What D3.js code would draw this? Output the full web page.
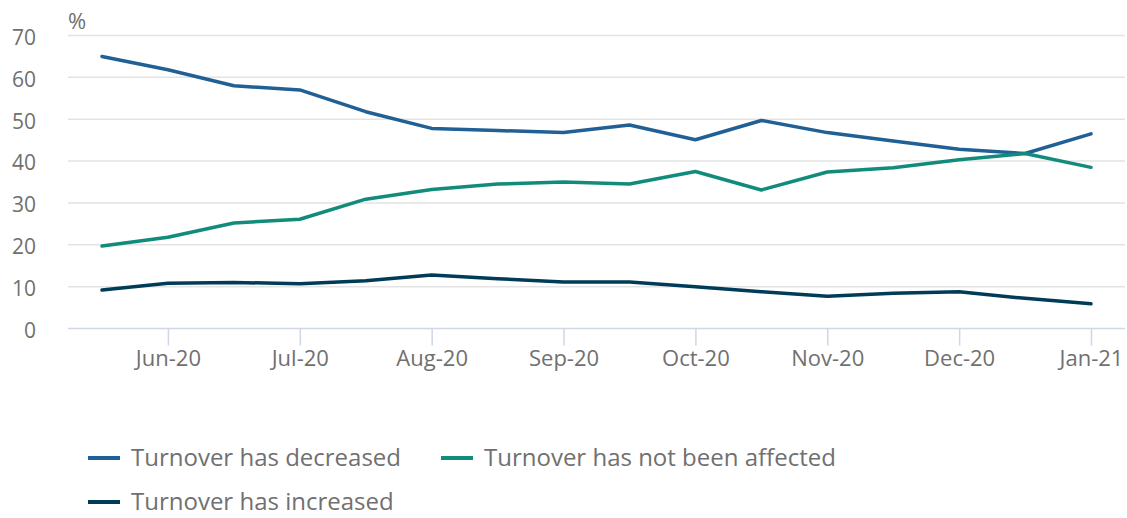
<!DOCTYPE html>
<html>
<head>
<meta charset="utf-8">
<script src="https://cdn.jsdelivr.net/npm/d3@7"></script>
<style>
  body { margin: 0; background: #fff; }
  svg { display: block; font-family: "Open Sans", sans-serif; }
</style>
</head>
<body>
<svg id="chart" width="1127" height="518"></svg>
<script>
// Fortnightly survey periods
const categories = ["May-20b","Jun-20","Jun-20b","Jul-20","Jul-20b","Aug-20","Aug-20b","Sep-20",
                    "Sep-20b","Oct-20","Oct-20b","Nov-20","Nov-20b","Dec-20","Dec-20b","Jan-21"];
const tickLabels = ["Jun-20","Jul-20","Aug-20","Sep-20","Oct-20","Nov-20","Dec-20","Jan-21"];
const yTicks = [0,10,20,30,40,50,60,70];

const decreased   = [65.0, 61.8, 58.0, 57.0, 51.8, 47.8, 47.3, 46.8, 48.6, 45.1, 49.7, 46.8, 44.8, 42.8, 41.8, 46.5];
const notAffected = [19.7, 21.8, 25.2, 26.1, 30.9, 33.2, 34.5, 35.0, 34.5, 37.5, 33.1, 37.4, 38.4, 40.3, 41.8, 38.5];
const increased   = [ 9.2, 10.8, 11.0, 10.7, 11.4, 12.8, 11.9, 11.1, 11.1, 10.0,  8.8,  7.7,  8.4,  8.8,  7.2,  5.9];

const seriesNames = ["Turnover has decreased","Turnover has not been affected","Turnover has increased"];
const seriesColors = ["#206095","#118c7b","#003c57"];
const seriesValues = [decreased, notAffected, increased];

const svg = d3.select("#chart");
const x = d3.scalePoint().domain(categories).range([102, 1091]);
const y = d3.scaleLinear().domain([0, 70]).range([328.5, 35.5]);

const textColor = "#707070";

// gridlines
const grid = svg.append("g");
grid.selectAll("line").data(yTicks.filter(d => d > 0)).join("line")
  .attr("x1", 68).attr("x2", 1125)
  .attr("y1", d => y(d)).attr("y2", d => y(d))
  .attr("stroke", "#e3e3e3").attr("stroke-width", 1.5);

// y axis labels
const yAxis = svg.append("g").attr("transform", "translate(36,0)")
  .call(d3.axisLeft(y).tickValues(yTicks).tickSize(0).tickPadding(0));
yAxis.select(".domain").remove();
yAxis.selectAll("text").attr("fill", textColor).style("font-size", "21px")
  .style("font-family", "'Open Sans', sans-serif").attr("dy", "0.42em");

// x axis
const xAxis = svg.append("g").attr("transform", `translate(0,${y(0)})`)
  .call(d3.axisBottom(x).tickValues(tickLabels).tickSize(17).tickPadding(5).tickSizeOuter(0));
xAxis.select(".domain").remove();
xAxis.selectAll(".tick line").attr("stroke", "#cfd6e6").attr("stroke-width", 1.5);
xAxis.selectAll("text").attr("fill", textColor).style("font-size", "22px")
  .style("font-family", "'Open Sans', sans-serif");
svg.append("line").attr("x1", 68).attr("x2", 1125).attr("y1", y(0)).attr("y2", y(0))
  .attr("stroke", "#cfd6e6").attr("stroke-width", 1.5);

// unit label
svg.append("text").attr("x", 68).attr("y", 29).text("%")
  .attr("fill", textColor).style("font-size", "22px");

// lines
const line = d3.line().x((d, i) => x(categories[i])).y(d => y(d));
seriesValues.forEach((vals, k) => {
  svg.append("path").datum(vals)
    .attr("d", line).attr("fill", "none")
    .attr("stroke", seriesColors[k]).attr("stroke-width", 3.5)
    .attr("stroke-linejoin", "round").attr("stroke-linecap", "round");
});

// legend
const legendPos = [[88, 458], [441, 458], [88, 502]];
seriesNames.forEach((name, k) => {
  const [lx, ly] = legendPos[k];
  svg.append("line").attr("x1", lx).attr("x2", lx + 32).attr("y1", ly).attr("y2", ly)
    .attr("stroke", seriesColors[k]).attr("stroke-width", 4);
  svg.append("text").attr("x", lx + 43).attr("y", ly).attr("dy", "0.35em")
    .text(name).attr("fill", textColor).style("font-size", "24px");
});
</script>
</body>
</html>
